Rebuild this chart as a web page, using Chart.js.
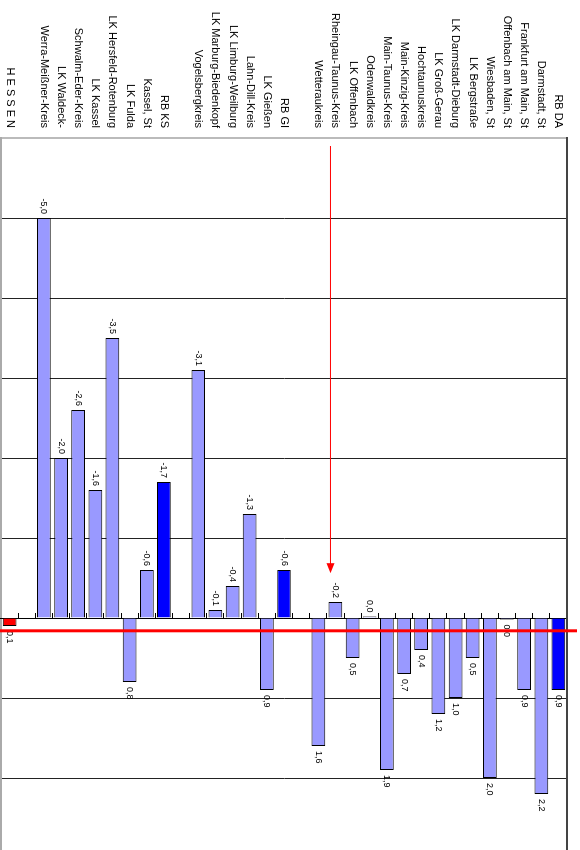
<!DOCTYPE html>
<html>
<head>
<meta charset="utf-8">
<title>Hessen</title>
<script src="https://cdn.jsdelivr.net/npm/chart.js@4.4.0/dist/chart.umd.min.js"></script>
<style>
  html, body { margin: 0; padding: 0; background: #fff; overflow: hidden; width: 580px; height: 850px; }
  #myChart { position: absolute; left: 0; top: 0; transform-origin: 0 0; transform: translate(577px, 0) rotate(90deg); }
</style>
</head>
<body>
<canvas id="myChart" width="870" height="600"></canvas>
<script>
// categories from top to bottom of the (horizontal) chart; '' = empty slot between groups
const regions = [
    'RB DA', 'Darmstadt, St', 'Frankfurt am Main, St', 'Offenbach am Main, St', 'Wiesbaden, St',
    'LK Bergstraße', 'LK Darmstadt-Dieburg', 'LK Groß-Gerau', 'Hochtaunuskreis', 'Main-Kinzig-Kreis',
    'Main-Taunus-Kreis', 'Odenwaldkreis', 'LK Offenbach', 'Rheingau-Taunus-Kreis', 'Wetteraukreis',
    '',
    'RB GI', 'LK Gießen', 'Lahn-Dill-Kreis', 'LK Limburg-Weilburg', 'LK Marburg-Biedenkopf', 'Vogelsbergkreis',
    '',
    'RB KS', 'Kassel, St', 'LK Fulda', 'LK Hersfeld-Rotenburg', 'LK Kassel', 'Schwalm-Eder-Kreis',
    'LK Waldeck-', 'Werra-Meißner-Kreis',
    '',
    'H E S S E N'
];

const changes = [
    0.9, 2.2, 0.9, 0.02, 2.0,
    0.5, 1.0, 1.2, 0.4, 0.7,
    1.9, -0.02, 0.5, -0.2, 1.6,
    null,
    -0.6, 0.9, -1.3, -0.4, -0.1, -3.1,
    null,
    -1.7, -0.6, 0.8, -3.5, -1.6, -2.6,
    -2.0, -5.0,
    null,
    0.1
];

const valueMin = -6;
const valueMax = 3;
const hessenLine = 0.16;          // red reference line
const arrowTarget = 'Rheingau-Taunus-Kreis';
const arrowFrom = -5.9;
const arrowTo = -0.56;

function fmt(v) {
    if (Math.abs(v) < 0.05) return '0,0';
    return v.toFixed(1).replace('.', ',');
}

function barColor(label) {
    if (label === 'H E S S E N') return '#ff0000';
    if (label.indexOf('RB ') === 0) return '#0000ff';
    return '#9999ff';
}

const extras = {
    id: 'extras',
    beforeDatasetsDraw(chart) {
        const ctx = chart.ctx, a = chart.chartArea;
        ctx.save();
        ctx.strokeStyle = '#444';
        ctx.lineWidth = 2;
        ctx.beginPath();
        ctx.moveTo(a.left - 1, a.top);
        ctx.lineTo(a.right, a.top);
        ctx.stroke();
        ctx.restore();
    },
    afterDatasetsDraw(chart) {
        const ctx = chart.ctx, a = chart.chartArea;
        const x = chart.scales.x, y = chart.scales.y;
        const meta = chart.getDatasetMeta(0);
        ctx.save();
        ctx.font = '9px "Liberation Sans", Arial, sans-serif';
        ctx.fillStyle = '#000';
        ctx.textBaseline = 'middle';
        meta.data.forEach(function (bar, i) {
            const v = changes[i];
            if (v === null) return;
            const neg = v < 0;
            ctx.textAlign = neg ? 'right' : 'left';
            ctx.fillText(fmt(v), bar.x + (neg ? -4 : 5), bar.y);
        });

        // Hessen line
        const hx = x.getPixelForValue(hessenLine);
        ctx.strokeStyle = '#ff0000';
        ctx.lineWidth = 3;
        ctx.beginPath();
        ctx.moveTo(hx, 0);
        ctx.lineTo(hx, a.bottom + 30);
        ctx.stroke();

        // arrow
        const ay = y.getPixelForValue(regions.indexOf(arrowTarget)) + 5;
        const x1 = x.getPixelForValue(arrowFrom);
        const x2 = x.getPixelForValue(arrowTo);
        ctx.lineWidth = 1;
        ctx.beginPath();
        ctx.moveTo(x1, ay);
        ctx.lineTo(x2 - 9, ay);
        ctx.stroke();
        ctx.fillStyle = '#ff0000';
        ctx.beginPath();
        ctx.moveTo(x2, ay);
        ctx.lineTo(x2 - 10, ay - 4);
        ctx.lineTo(x2 - 10, ay + 4);
        ctx.closePath();
        ctx.fill();
        ctx.restore();
    }
};

const ctx = document.getElementById('myChart');

const data = {
    labels: regions,
    datasets: [
        {
            data: changes,
            backgroundColor: regions.map(barColor),
            borderColor: '#000',
            borderWidth: 1,
            barPercentage: 0.8,
            categoryPercentage: 1,
            minBarLength: 1,
        },
    ],
};

const config = {
    type: 'bar',
    data: data,
    plugins: [extras],
    options: {
        indexAxis: 'y',
        responsive: false,
        animation: false,
        layout: { padding: { left: 0, right: 12, top: 10, bottom: 24 } },
        plugins: {
            legend: { display: false },
            tooltip: { enabled: false },
        },
        scales: {
            x: {
                type: 'linear',
                min: valueMin,
                max: valueMax,
                ticks: { display: false, stepSize: 1 },
                grid: {
                    drawTicks: false,
                    color: function (c) { return c.tick && c.tick.value === valueMin ? '#bbb' : '#222'; },
                    lineWidth: function (c) { return c.tick && c.tick.value === valueMin ? 2 : 1; },
                },
                border: { display: true, color: '#aaa', width: 2 },
            },
            y: {
                type: 'category',
                offset: true,
                grid: { display: false, drawTicks: false },
                border: { display: false },
                ticks: {
                    padding: 10,
                    color: '#000',
                    autoSkip: false,
                    font: { family: '"Liberation Sans", Arial, sans-serif', size: 11 },
                },
                afterFit: function (scale) {
                    scale.width = 138;
                    scale.paddingTop = 0;
                    scale.paddingBottom = 0;
                },
            },
            y2: {
                type: 'category',
                axis: 'y',
                labels: regions,
                position: { x: 0 },
                offset: true,
                grid: { offset: true, drawOnChartArea: false, drawTicks: true, tickLength: 5, color: '#000' },
                ticks: { display: false, autoSkip: false },
                border: { display: true, color: '#000', width: 1 },
                afterFit: function (scale) {
                    scale.paddingTop = 0;
                    scale.paddingBottom = 0;
                },
            },
        },
    },
};

const myChart = new Chart(ctx, config);
</script>
</body>
</html>
